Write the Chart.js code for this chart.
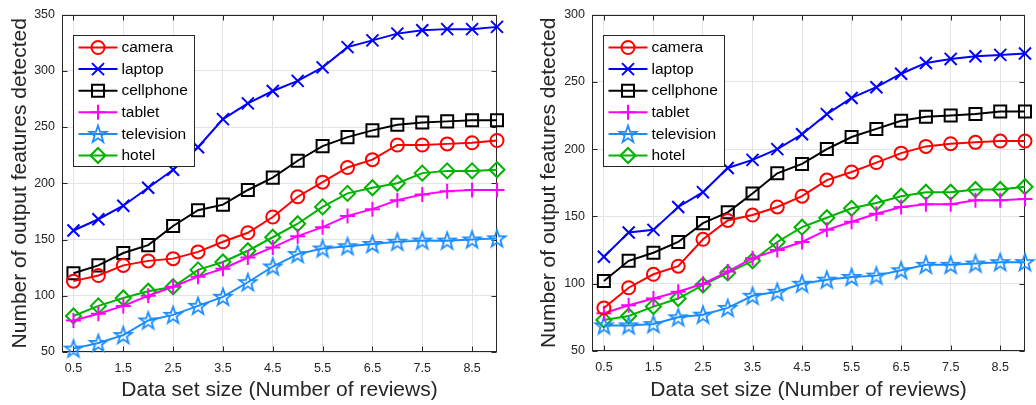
<!DOCTYPE html>
<html>
<head>
<meta charset="utf-8">
<script src="https://cdn.jsdelivr.net/npm/chart.js@4.4.1/dist/chart.umd.min.js"></script>
<style>
  html, body { margin: 0; padding: 0; background: #ffffff; }
  #wrap { position: relative; width: 1036px; height: 405px; }
  #wrap canvas { position: absolute; top: 0; }
</style>
</head>
<body>
<div id="wrap">
  <canvas id="panelA" width="518" height="405" style="left:0px"></canvas>
  <canvas id="panelB" width="518" height="405" style="left:518px"></canvas>
</div>
<script>
// Data set sizes (number of reviews) sampled on the x axis
const reviewSizes = [0.5, 1, 1.5, 2, 2.5, 3, 3.5, 4, 4.5, 5, 5.5, 6, 6.5, 7, 7.5, 8, 8.5, 9];
const xTickValues = [0.5, 1.5, 2.5, 3.5, 4.5, 5.5, 6.5, 7.5, 8.5];
const xTickLabels = ['0.5', '1.5', '2.5', '3.5', '4.5', '5.5', '6.5', '7.5', '8.5'];
const seriesNames = ['camera', 'laptop', 'cellphone', 'tablet', 'television', 'hotel'];

// Panel A: number of output features detected
const aCamera     = [113, 118, 127, 131, 133, 139, 148, 156, 170, 188, 201, 214, 221, 234, 234, 235, 236, 238];
const aLaptop     = [158, 168, 180, 196, 212, 232, 257, 271, 282, 291, 303, 321, 327, 333, 336, 337, 337, 339];
const aCellphone  = [120, 127, 138, 145, 162, 176, 181, 194, 205, 220, 233, 241, 247, 252, 254, 255, 256, 256];
const aTablet     = [78, 84, 91, 100, 108, 117, 124, 134, 143, 153, 161, 171, 177, 185, 190, 193, 194, 194];
const aTelevision = [53, 58, 65, 78, 83, 91, 99, 112, 126, 137, 142, 144, 146, 148, 149, 149, 150, 151];
const aHotel      = [82, 91, 98, 104, 108, 123, 130, 140, 152, 164, 179, 191, 196, 200, 209, 211, 211, 212];
const aYTicks     = { min: 50, max: 350, step: 50 };

// Panel B: number of output features detected
const bCamera     = [82, 97, 107, 113, 133, 147, 151, 157, 165, 177, 183, 190, 197, 202, 204, 205, 206, 206];
const bLaptop     = [120, 138, 140, 157, 168, 186, 192, 200, 211, 226, 238, 246, 256, 264, 267, 269, 270, 271];
const bCellphone  = [102, 117, 123, 131, 145, 153, 167, 182, 189, 200, 209, 215, 221, 224, 225, 226, 228, 228];
const bTablet     = [78, 84, 89, 94, 100, 109, 119, 125, 131, 140, 146, 152, 157, 159, 159, 162, 162, 163];
const bTelevision = [69, 69, 70, 75, 77, 82, 91, 94, 100, 103, 105, 106, 110, 114, 114, 115, 116, 116];
const bHotel      = [73, 76, 83, 89, 99, 108, 117, 131, 142, 149, 156, 160, 165, 168, 168, 170, 170, 172];
const bYTicks     = { min: 50, max: 300, step: 50 };

const FONT = '"Liberation Sans", Arial, Helvetica, sans-serif';
const AXIS_INK = '#262626';

// Hollow five-pointed star marker
function makeStar(color, outer, lw) {
  const size = Math.ceil(outer * 2 + lw * 2 + 2);
  const c = document.createElement('canvas');
  c.width = size; c.height = size;
  const g = c.getContext('2d');
  const cx = size / 2, cy = size / 2 + outer * 0.08;
  const inner = outer * 0.40;
  g.beginPath();
  for (let k = 0; k < 10; k++) {
    const r = k % 2 === 0 ? outer : inner;
    const a = -Math.PI / 2 + k * Math.PI / 5;
    const px = cx + r * Math.cos(a), py = cy + r * Math.sin(a);
    if (k === 0) g.moveTo(px, py); else g.lineTo(px, py);
  }
  g.closePath();
  g.lineJoin = 'miter';
  g.lineWidth = lw;
  g.strokeStyle = color;
  g.stroke();
  return c;
}

const seriesStyles = [
  { color: '#ff0000', marker: 'circle',   radius: 6.5 },
  { color: '#0000ff', marker: 'crossRot', radius: 8.5 },
  { color: '#000000', marker: 'rect',     radius: 8.5 },
  { color: '#ff00ff', marker: 'cross',    radius: 7.5 },
  { color: '#1a8cff', marker: makeStar('#1a8cff', 9, 1.8), radius: 9 },
  { color: '#00b300', marker: 'rectRot',  radius: 7.5 }
];

// Axes box, inward tick marks
const framePlugin = {
  id: 'frameBox',
  beforeDatasetsDraw(chart) {
    const { ctx, chartArea: a, scales } = chart;
    ctx.save();
    ctx.strokeStyle = AXIS_INK;
    ctx.lineWidth = 1;
    const L = Math.round(a.left) + 0.5, R = Math.round(a.right) - 0.5;
    const T = Math.round(a.top) + 0.5, B = Math.round(a.bottom) - 0.5;
    ctx.beginPath();
    const tl = 5;
    scales.y.ticks.forEach(t => {
      const py = Math.round(scales.y.getPixelForValue(t.value)) + 0.5;
      ctx.moveTo(L, py); ctx.lineTo(L + tl, py);
      ctx.moveTo(R, py); ctx.lineTo(R - tl, py);
    });
    scales.x.ticks.forEach(t => {
      const px = Math.round(scales.x.getPixelForValue(t.value)) + 0.5;
      ctx.moveTo(px, B); ctx.lineTo(px, B - tl);
      ctx.moveTo(px, T); ctx.lineTo(px, T + tl);
    });
    ctx.stroke();
    ctx.strokeRect(L, T, R - L, B - T);
    ctx.restore();
  }
};

// Boxed legend in the upper-left corner of the plot area
const legendBoxPlugin = {
  id: 'legendBox',
  afterDatasetsDraw(chart) {
    const { ctx, chartArea: a } = chart;
    const bx = Math.round(a.left + 11) + 0.5, by = Math.round(a.top + 20) + 0.5;
    const bw = 121, bh = 131;
    ctx.save();
    ctx.fillStyle = '#ffffff';
    ctx.fillRect(bx, by, bw, bh);
    ctx.strokeStyle = AXIS_INK;
    ctx.lineWidth = 1;
    ctx.strokeRect(bx, by, bw, bh);
    ctx.font = '15.5px ' + FONT;
    ctx.textBaseline = 'middle';
    ctx.textAlign = 'left';
    chart.data.datasets.forEach((ds, i) => {
      const cy = by + 12 + i * 21.6;
      ctx.strokeStyle = ds.borderColor;
      ctx.lineWidth = 2;
      ctx.beginPath();
      ctx.moveTo(bx + 5, cy);
      ctx.lineTo(bx + 44, cy);
      ctx.stroke();
      ctx.fillStyle = 'rgba(0,0,0,0)';
      ctx.strokeStyle = ds.pointBorderColor;
      ctx.lineWidth = ds.pointBorderWidth;
      Chart.helpers.drawPoint(ctx, {
        pointStyle: ds.pointStyle, radius: ds.pointRadius, rotation: 0, borderWidth: ds.pointBorderWidth
      }, bx + 24.5, cy);
      ctx.fillStyle = '#000000';
      ctx.fillText(ds.label, bx + 48, cy + 0.5);
    });
    ctx.restore();
  }
};

function buildPanel(canvasId, seriesValues, yTicks, geom) {
  const datasets = seriesValues.map((vals, i) => {
    const st = seriesStyles[i];
    return {
      label: seriesNames[i],
      data: vals.map((v, j) => ({ x: reviewSizes[j], y: v })),
      borderColor: st.color,
      backgroundColor: st.color,
      borderWidth: 2,
      pointStyle: st.marker,
      pointRadius: st.radius,
      pointHoverRadius: st.radius,
      pointBorderColor: st.color,
      pointBackgroundColor: 'rgba(0,0,0,0)',
      pointBorderWidth: 2,
      tension: 0,
      clip: false
    };
  });

  return new Chart(document.getElementById(canvasId), {
    type: 'line',
    data: { datasets },
    options: {
      responsive: false,
      animation: false,
      devicePixelRatio: 1,
      events: [],
      layout: { padding: { left: 0, right: geom.padRight, top: 13, bottom: 0 } },
      plugins: { legend: { display: false }, tooltip: { enabled: false } },
      scales: {
        x: {
          type: 'linear',
          min: geom.xMin,
          max: 9,
          afterBuildTicks: s => { s.ticks = xTickValues.map(v => ({ value: v })); },
          afterFit: s => { s.height = geom.xAxisHeight; },
          ticks: {
            callback: (v, i) => xTickLabels[i],
            color: AXIS_INK,
            font: { family: FONT, size: 12.5 },
            padding: 9,
            maxRotation: 0,
            autoSkip: false
          },
          grid: { color: '#e3e3e3', lineWidth: 1, drawTicks: false },
          border: { display: false },
          title: {
            display: true,
            text: 'Data set size (Number of reviews)',
            color: AXIS_INK,
            font: { family: FONT, size: 21 },
            padding: { top: 0, bottom: 2 }
          }
        },
        y: {
          type: 'linear',
          min: yTicks.min,
          max: yTicks.max,
          afterFit: s => { s.width = geom.yAxisWidth; },
          ticks: {
            stepSize: yTicks.step,
            color: AXIS_INK,
            font: { family: FONT, size: 12.5 },
            padding: 7
          },
          grid: { color: '#e3e3e3', lineWidth: 1, drawTicks: false },
          border: { display: false },
          title: {
            display: true,
            text: 'Number of output features detected',
            color: AXIS_INK,
            font: { family: FONT, size: 21 },
            padding: { top: geom.yTitlePad, bottom: 0 }
          }
        }
      }
    },
    plugins: [framePlugin, legendBoxPlugin]
  });
}

buildPanel('panelA',
  [aCamera, aLaptop, aCellphone, aTablet, aTelevision, aHotel], aYTicks,
  { xMin: 0.27, padRight: 21, xAxisHeight: 53, yAxisWidth: 62, yTitlePad: 7.4 });

buildPanel('panelB',
  [bCamera, bLaptop, bCellphone, bTablet, bTelevision, bHotel], bYTicks,
  { xMin: 0.26, padRight: 9, xAxisHeight: 54, yAxisWidth: 74, yTitlePad: 18.4 });
</script>
</body>
</html>
